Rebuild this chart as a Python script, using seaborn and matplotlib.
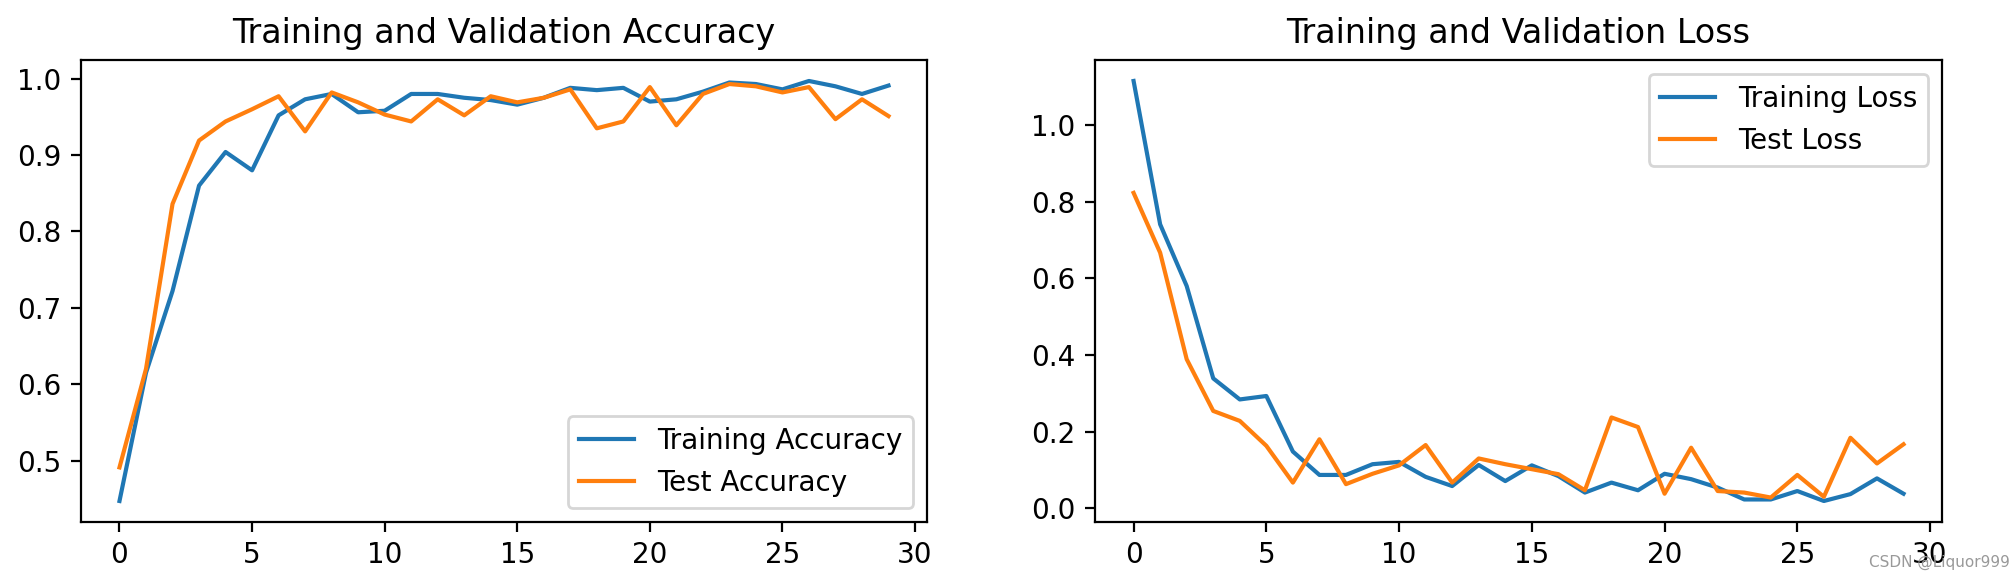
import numpy as np
import matplotlib
matplotlib.use("Agg")
import matplotlib.pyplot as plt
import seaborn as sns

# Values
epochs = list(range(30))

train_acc = [0.447, 0.615, 0.722, 0.860, 0.904, 0.880, 0.952, 0.973, 0.980, 0.956,
             0.958, 0.980, 0.980, 0.975, 0.972, 0.966, 0.975, 0.988, 0.985, 0.988,
             0.970, 0.973, 0.983, 0.995, 0.993, 0.986, 0.997, 0.990, 0.980, 0.991]
test_acc = [0.491, 0.620, 0.836, 0.919, 0.944, 0.960, 0.977, 0.931, 0.982, 0.969,
            0.953, 0.944, 0.973, 0.952, 0.977, 0.969, 0.975, 0.986, 0.935, 0.944,
            0.989, 0.939, 0.980, 0.993, 0.990, 0.982, 0.989, 0.947, 0.973, 0.951]

train_loss = [1.115, 0.741, 0.580, 0.339, 0.284, 0.293, 0.148, 0.087, 0.087, 0.115,
              0.121, 0.082, 0.058, 0.113, 0.071, 0.112, 0.084, 0.041, 0.067, 0.047,
              0.090, 0.076, 0.054, 0.023, 0.023, 0.045, 0.019, 0.037, 0.078, 0.038]
test_loss = [0.823, 0.667, 0.389, 0.254, 0.228, 0.163, 0.067, 0.180, 0.063, 0.090,
             0.112, 0.165, 0.067, 0.130, 0.115, 0.102, 0.089, 0.047, 0.237, 0.212,
             0.038, 0.158, 0.045, 0.041, 0.028, 0.087, 0.030, 0.184, 0.117, 0.167]

fig, (ax1, ax2) = plt.subplots(1, 2, figsize=(10.08, 2.9), dpi=200)
ax1.set_position([0.0402, 0.1, 0.4598 - 0.0402, 0.7966])
ax2.set_position([0.5432, 0.1, 0.9633 - 0.5432, 0.7966])

# Accuracy
sns.lineplot(x=epochs, y=train_acc, ax=ax1, label="Training Accuracy")
sns.lineplot(x=epochs, y=test_acc, ax=ax1, label="Test Accuracy")
ax1.set_title("Training and Validation Accuracy")
ax1.legend(loc="lower right")

# Loss
sns.lineplot(x=epochs, y=train_loss, ax=ax2, label="Training Loss")
sns.lineplot(x=epochs, y=test_loss, ax=ax2, label="Test Loss")
ax2.set_title("Training and Validation Loss")
ax2.legend(loc="upper right")

fig.text(0.997, 0.03, "CSDN @Liquor999", ha="right", va="center",
         fontsize=5.5, color="#999999")

plt.savefig("out.png", dpi=200)
